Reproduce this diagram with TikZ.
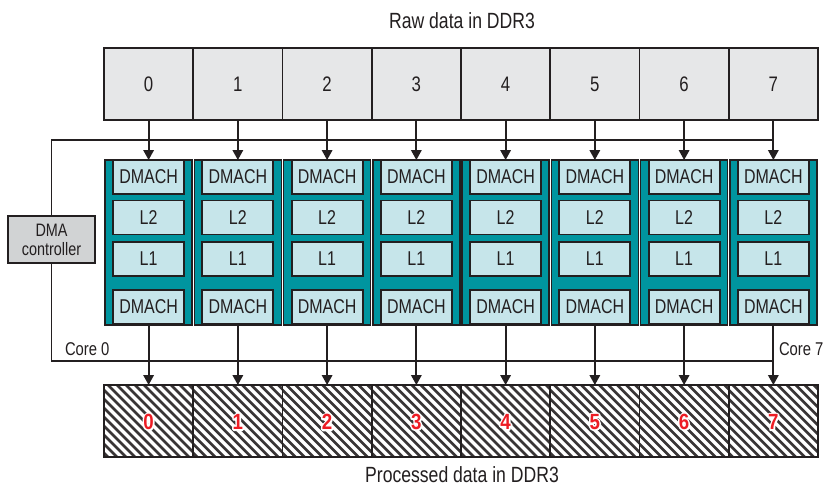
\documentclass[tikz,border=0pt]{standalone}
\usepackage{fontspec}
\setmainfont{Liberation Sans}[FakeStretch=0.8]
\newfontfamily\numface{Liberation Sans Bold}[FakeStretch=0.85]
\usetikzlibrary{arrows.meta}
\definecolor{ink}{HTML}{231F20}
\definecolor{rawgray}{HTML}{E6E7E8}
\definecolor{ctrlgray}{HTML}{D1D3D4}
\definecolor{teal}{HTML}{00959F}
\definecolor{cache}{HTML}{C6E5EA}
\definecolor{numred}{HTML}{ED1C24}
\newcommand\strokedtext[1]{\special{pdf:code 1 Tr 3.2 w 1 j}#1\special{pdf:code 0 Tr}}
\begin{document}
\begin{tikzpicture}[x=1pt,y=-1pt,
  every node/.style={inner sep=0pt,outer sep=0pt},
  wire/.style={draw=ink,line width=1.8pt},
  arr/.style={wire,-{Triangle[width=10.5pt,length=10pt]}},
  rawbox/.style={draw=ink,line width=1.8pt,fill=rawgray,minimum width=89.2pt,minimum height=72pt,font=\fontsize{21}{24}\selectfont,text=ink},
  corebox/.style={draw=ink,line width=1.4pt,fill=teal,minimum width=87pt,minimum height=165pt},
  cachebox/.style={draw=ink,line width=1.8pt,fill=cache,minimum width=71pt,minimum height=34pt,font=\fontsize{20}{22}\selectfont,text=ink},
  outbox/.style={draw=ink,line width=1.8pt,minimum width=89.2pt,minimum height=72pt},
  hatch/.style={draw=ink!90,line width=2.6pt},
  outnum/.style={font=\numface\fontsize{22}{24}\selectfont,text=numred},
  halo/.style={font=\numface\fontsize{22}{24}\selectfont,text=white},
  title/.style={font=\fontsize{22}{26}\selectfont,text=ink},
  lab/.style={font=\fontsize{18.5}{20}\selectfont,text=ink}]
\useasboundingbox (0,0) rectangle (825,488);
\fill[white] (0,0) rectangle (825,488);
\node[title] (rawtitle) at (462,21) {Raw data in DDR3};
\node[title] (proctitle) at (462,475) {Processed data in DDR3};
\foreach \i in {0,...,7}{
  \pgfmathsetmacro{\cx}{148.6+89.25*\i}
  \pgfmathsetmacro{\lx}{\cx-44.6}
  \node[rawbox] (t\i) at (\cx,84) {\i};
  \begin{scope}
    \clip (\lx,385) rectangle ({\lx+89.2},457);
    \foreach \k in {-9,...,10}{
      \draw[hatch] ({\lx+\k*9+4},385) -- ++(80,80);
    }
  \end{scope}
  \node[outbox] (b\i) at (\cx,421) {};
  \node[halo] (h\i) at (\cx,422) {\strokedtext{\i}};
  \node[outnum] (n\i) at (\cx,422) {\i};
  \node[corebox] (c\i) at (\cx,242.5) {};
  \node[cachebox] (da\i) at (\cx,177) {DMACH};
  \node[cachebox] (lb\i) at (\cx,217.5) {L2};
  \node[cachebox] (la\i) at (\cx,259) {L1};
  \node[cachebox] (db\i) at (\cx,307) {DMACH};
}
\node[draw=ink,line width=1.8pt,fill=ctrlgray,minimum width=87pt,minimum height=47pt,align=center,
  font=\fontsize{18}{19}\selectfont,text=ink] (dma) at (51.5,239.5) {DMA\\controller};
\coordinate (bustop) at (t7.south |- 0,140);
\coordinate (busbot) at (t7.south |- 0,361);
\draw[wire] (dma.north) |- (bustop);
\draw[wire] (dma.south) |- (busbot);
\foreach \i in {0,...,7}{
  \draw[arr] (t\i.south) -- (da\i.north);
  \draw[arr] (db\i.south) -- (b\i.north);
}
\node[lab,anchor=west] (core0) at (65,349) {Core 0};
\node[lab,anchor=west] (core7) at (779,349) {Core 7};
\end{tikzpicture}
\end{document}
